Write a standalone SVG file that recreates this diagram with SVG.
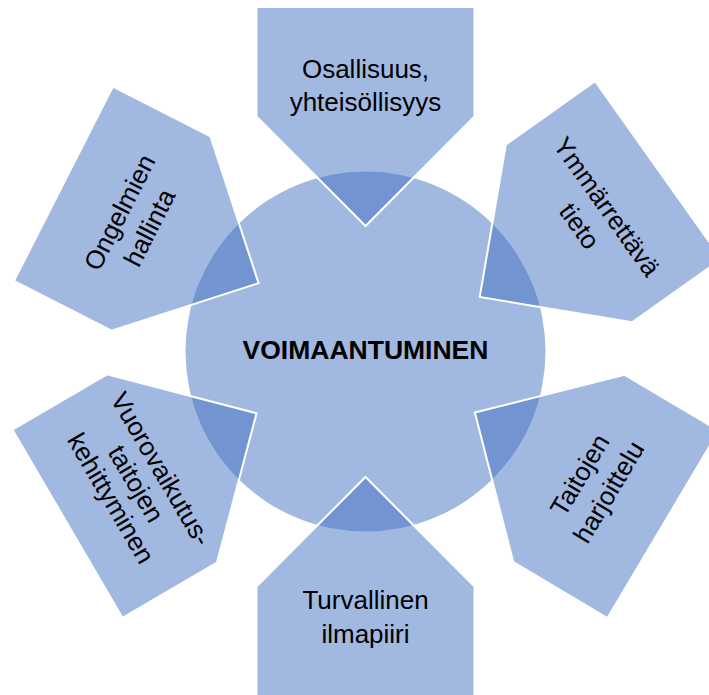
<svg xmlns="http://www.w3.org/2000/svg" width="709" height="695" viewBox="0 0 709 695">
  <style>
    .hub { fill: #4472C4; fill-opacity: 0.5; }
    .pent { fill: #4472C4; fill-opacity: 0.5; stroke: #FFFFFF; stroke-width: 2; stroke-linejoin: miter; }
    .lbl { font-family: "Liberation Sans", Arial, sans-serif; font-size: 26px; fill: #000000; text-anchor: middle; }
    .hubtxt { font-family: "Liberation Sans", Arial, sans-serif; font-size: 26.5px; font-weight: bold; fill: #000000; text-anchor: middle; }
  </style>
  <defs>
    <polygon id="pentShape" points="-109,-109.5 109,-109.5 109,0 0,109.5 -109,0"/>
  </defs>
  <rect x="0" y="0" width="709" height="695" fill="#FFFFFF"/>

  <g id="hub">
    <circle class="hub" cx="365.5" cy="351.5" r="180"/>
    <text class="hubtxt" x="365.5" y="358.5">VOIMAANTUMINEN</text>
  </g>

  <g id="node-osallisuus" transform="translate(365.5,116.5)">
    <use href="#pentShape" class="pent"/>
    <text class="lbl" transform="translate(0,-30.5)"><tspan x="0" y="-8.5">Osallisuus,</tspan><tspan x="0" y="25">yhteisöllisyys</tspan></text>
  </g>

  <g id="node-ymmarrettava" transform="translate(569,233.5) rotate(54.6)">
    <use href="#pentShape" class="pent"/>
    <text class="lbl" transform="translate(0,-29.5)"><tspan x="0" y="-8">Ymmärrettävä</tspan><tspan x="0" y="25.5">tieto</tspan></text>
  </g>

  <g id="node-taitojen" transform="translate(569,468.5) rotate(120.7)">
    <use href="#pentShape" class="pent"/>
    <text class="lbl" transform="translate(0,-29.5) rotate(180)"><tspan x="0" y="-8">Taitojen</tspan><tspan x="0" y="25.5">harjoittelu</tspan></text>
  </g>

  <g id="node-turvallinen" transform="translate(365.5,586.5) rotate(180)">
    <use href="#pentShape" class="pent"/>
    <text class="lbl" transform="translate(0,-29.5) rotate(180)"><tspan x="0" y="-7">Turvallinen</tspan><tspan x="0" y="26.5">ilmapiiri</tspan></text>
  </g>

  <g id="node-vuorovaikutus" transform="translate(162,468.5) rotate(-120.3)">
    <use href="#pentShape" class="pent"/>
    <text class="lbl" transform="translate(0,-29.5) rotate(180)"><tspan x="0" y="-19.5">Vuorovaikutus-</tspan><tspan x="0" y="9.5">taitojen</tspan><tspan x="0" y="38.5">kehittyminen</tspan></text>
  </g>

  <g id="node-ongelmien" transform="translate(161,233.5) rotate(-63)">
    <use href="#pentShape" class="pent"/>
    <text class="lbl" transform="translate(0,-29.5)"><tspan x="0" y="-8">Ongelmien</tspan><tspan x="0" y="25.5">hallinta</tspan></text>
  </g>
</svg>
